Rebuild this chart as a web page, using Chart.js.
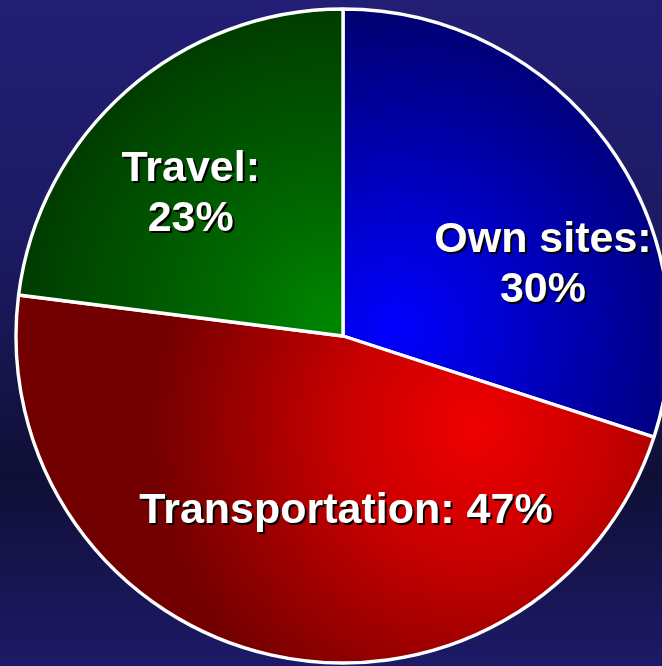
<!DOCTYPE html>
<html>
<head>
<meta charset="utf-8">
<script src="https://cdn.jsdelivr.net/npm/chart.js@4.4.0/dist/chart.umd.min.js"></script>
<style>
html, body { margin: 0; padding: 0; }
body {
    width: 662px; height: 666px; overflow: hidden;
    background: linear-gradient(to bottom, #221e75 0%, #1c1a62 38%, #100f36 72%, #1d1a68 100%);
}
#wrap { position: relative; width: 662px; height: 666px; }
</style>
</head>
<body>
<div id="wrap"><canvas id="chart"></canvas></div>
<script>
let labels = ['Own sites:', 'Transportation:', 'Travel:'];
let values = [30, 47, 23];
let twoLines = [true, false, true];

// per-slice "from centre" shading: focus offset (x, y) and reach, as fractions of the radius
let shade = [
    { stops: ['#0000ff', '#0000c8', '#000070'], fx: 0.16, fy: -0.02, reach: 0.97 },
    { stops: ['#f00000', '#c80000', '#720000'], fx: 0.40, fy: 0.28, reach: 1.0 },
    { stops: ['#008600', '#006400', '#003a00'], fx: -0.03, fy: -0.05, reach: 0.98 }
];

// label placement: angle shift from slice middle (deg) and distance (fraction of radius)
let labelLayout = [
    { shift: 15.7, dist: 0.652 },
    { shift: -13.6, dist: 0.524 },
    { shift: -5.0, dist: 0.643 }
];

function sliceFill(context) {
    let chart = context.chart;
    let area = chart.chartArea;
    let s = shade[context.dataIndex];
    if (!area) return s.stops[0];
    let R = chart.options.radius;
    let cx = (area.left + area.right) / 2;
    let cy = (area.top + area.bottom) / 2;
    let fx = cx + s.fx * R, fy = cy + s.fy * R;
    let g = chart.ctx.createRadialGradient(fx, fy, 0, fx, fy, s.reach * R);
    g.addColorStop(0, s.stops[0]);
    g.addColorStop(0.4, s.stops[1]);
    g.addColorStop(1, s.stops[2]);
    return g;
}

const sliceLabels = {
    id: 'sliceLabels',
    afterDatasetsDraw(chart) {
        let ctx = chart.ctx;
        let arcs = chart.getDatasetMeta(0).data;
        let size = 43, lineGap = 50, cap = size * 0.716;
        ctx.save();
        ctx.font = 'bold ' + size + 'px "Liberation Sans", Arial, sans-serif';
        ctx.textAlign = 'center';
        ctx.textBaseline = 'alphabetic';
        arcs.forEach((arc, i) => {
            let lay = labelLayout[i];
            let a = (arc.startAngle + arc.endAngle) / 2 + lay.shift * Math.PI / 180;
            let r = arc.outerRadius * lay.dist;
            let x = arc.x + r * Math.cos(a);
            let y = arc.y + r * Math.sin(a);
            let lines = twoLines[i]
                ? [labels[i], values[i] + '%']
                : [labels[i] + ' ' + values[i] + '%'];
            let top = y - (lines.length - 1) * lineGap / 2 + cap / 2;
            lines.forEach((t, k) => {
                let by = top + k * lineGap;
                ctx.fillStyle = '#000000';
                ctx.fillText(t, x + 2, by + 2);
                ctx.fillStyle = '#ffffff';
                ctx.fillText(t, x, by);
            });
        });
        ctx.restore();
    }
};

let ctx = document.getElementById('chart').getContext('2d');
let chart = new Chart(ctx, {
    type: 'pie',
    data: {
        labels: labels,
        datasets: [{
            data: values,
            backgroundColor: sliceFill,
            borderColor: '#ffffff',
            borderWidth: 3.4,
            clip: false
        }]
    },
    options: {
        responsive: true,
        maintainAspectRatio: false,
        animation: false,
        radius: 327,
        layout: { padding: { left: 24, top: 6, right: 0, bottom: 0 } },
        plugins: {
            legend: { display: false },
            tooltip: { enabled: false }
        }
    },
    plugins: [sliceLabels]
});
</script>
</body>
</html>
